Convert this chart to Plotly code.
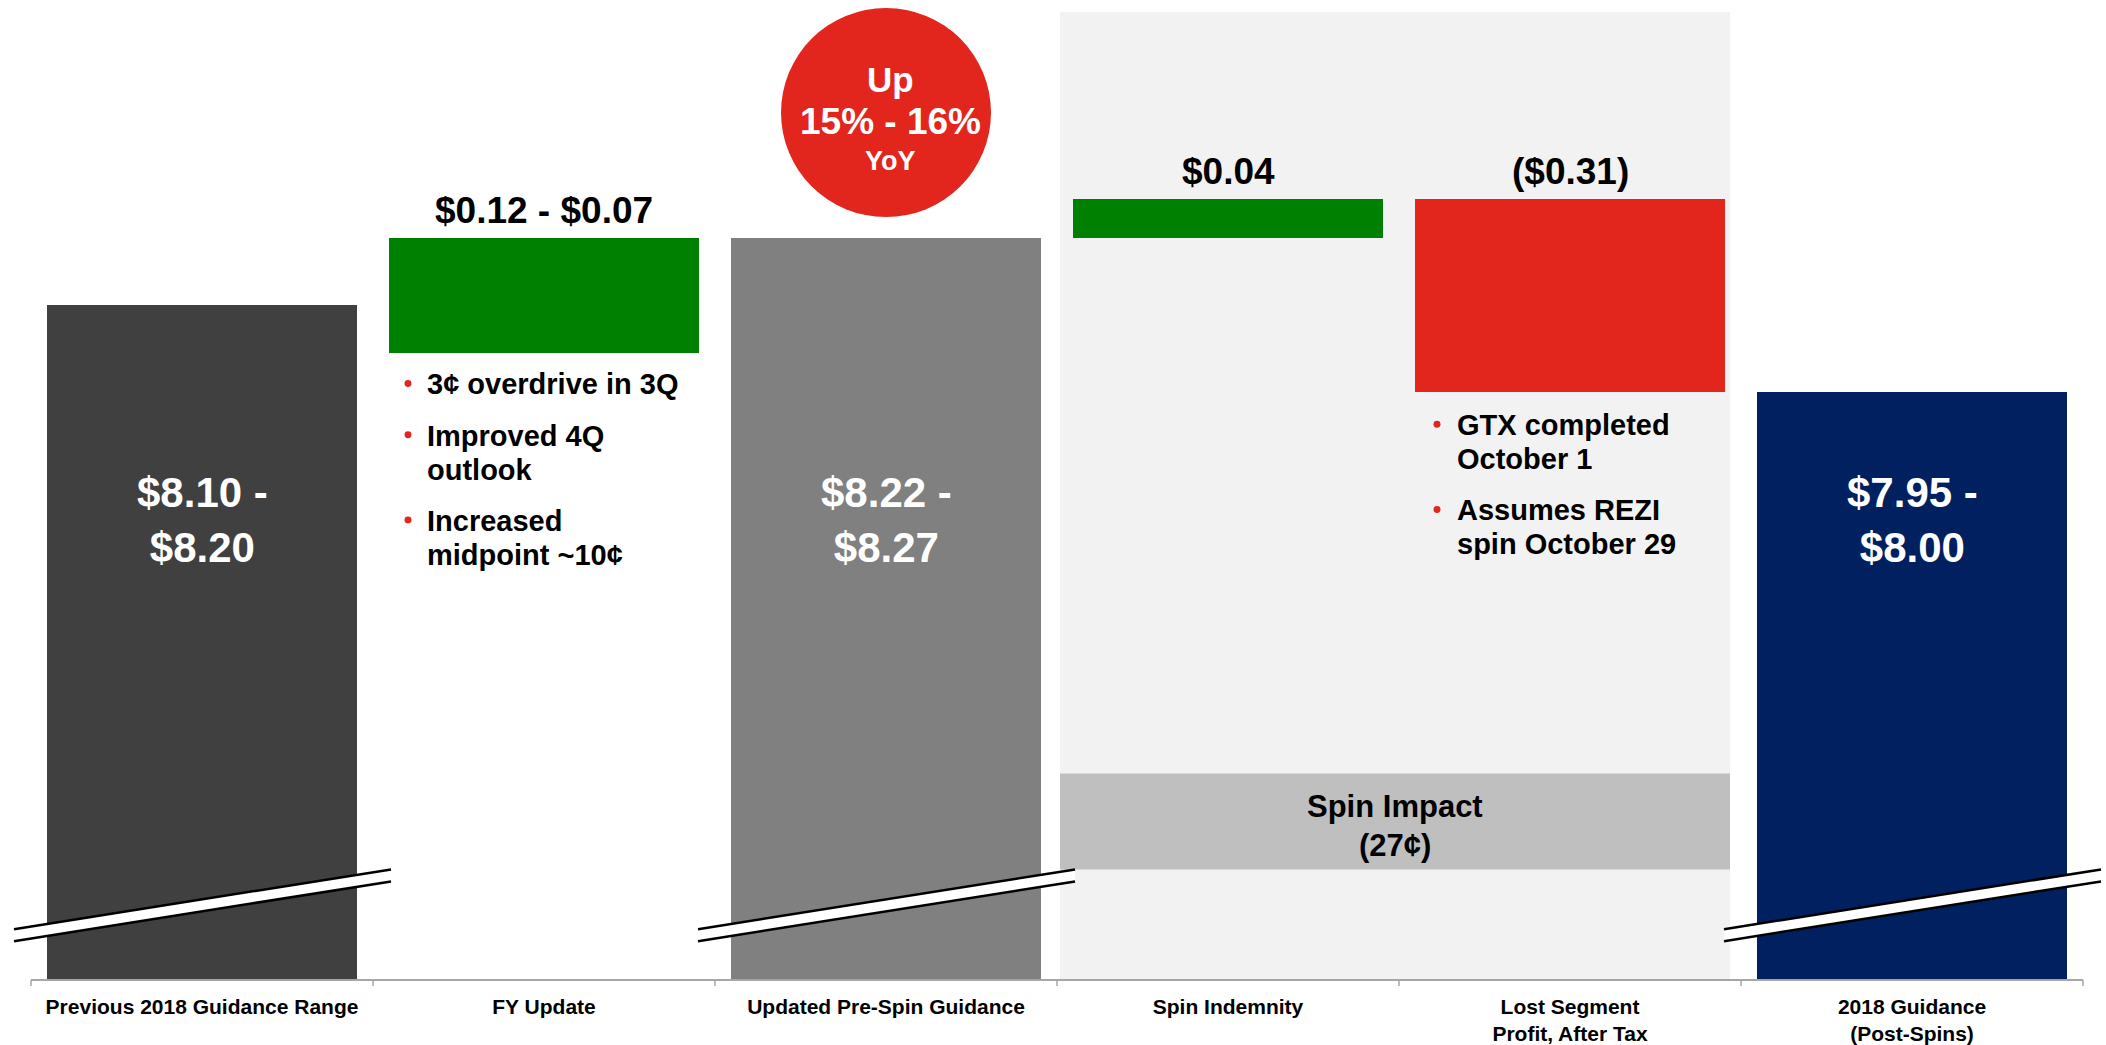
import plotly.graph_objects as go

# ---------------- data ----------------
categories = [
    "Previous 2018 Guidance Range",
    "FY Update",
    "Updated Pre-Spin Guidance",
    "Spin Indemnity",
    "Lost Segment<br>Profit, After Tax",
    "2018 Guidance<br>(Post-Spins)",
]
# bar extents as drawn on the slide (broken axis, % of axis height)
bar_base = [0.0, 64.0, 0.0, 75.7, 60.0, 0.0]
bar_top = [68.9, 75.7, 75.7, 79.7, 79.7, 60.0]
bar_colors = ["#404040", "#008000", "#808080", "#008000", "#e2261d", "#002060"]
inside_labels = ["$8.10 -<br>$8.20", "", "$8.22 -<br>$8.27", "", "", "$7.95 -<br>$8.00"]
above_labels = ["", "$0.12 - $0.07", "", "$0.04", "($0.31)", ""]
broken_bars = [0, 2, 5]
fy_bullets = [["3¢ overdrive in 3Q"], ["Improved 4Q", "outlook"], ["Increased", "midpoint ~10¢"]]
lost_bullets = [["GTX completed", "October 1"], ["Assumes REZI", "spin October 29"]]
yoy_lines = ["Up", "15% - 16%", "YoY"]
spin_lines = ["Spin Impact", "(27¢)"]

# ---------------- geometry helpers ----------------
W, H = 2106, 1045
PLOT_H = 984          # plot area height in px (axis line at bottom)
X0_PX, CAT_PX = 31, 342
FONT = "Liberation Sans, Arial, sans-serif"
RED = "#e2261d"


def xpx(px):
    return (px - X0_PX) / CAT_PX - 0.5


def ypx(px):
    return (PLOT_H - px) / PLOT_H * 100.0


def dx(px):
    return px / CAT_PX


def dy(px):
    return px / PLOT_H * 100.0


n = len(categories)
xs = list(range(n))

fig = go.Figure()
fig.add_trace(go.Bar(
    x=xs,
    y=[t - b for t, b in zip(bar_top, bar_base)],
    base=bar_base,
    width=0.906,
    marker=dict(color=bar_colors, line=dict(width=0)),
    hoverinfo="skip",
    showlegend=False,
))

shapes = []
annotations = []

# shaded spin region and spin impact box
shade_x0, shade_x1 = xpx(1060), xpx(1730)
shapes.append(dict(type="rect", xref="x", yref="y", x0=shade_x0, x1=shade_x1,
                   y0=0, y1=ypx(12), fillcolor="#f2f2f2", line=dict(width=0), layer="below"))
shapes.append(dict(type="rect", xref="x", yref="y", x0=shade_x0, x1=shade_x1,
                   y0=ypx(873), y1=ypx(776.7), fillcolor="#bfbfbf", line=dict(width=0), layer="below"))
for i, txt in enumerate(spin_lines):
    annotations.append(dict(x=(shade_x0 + shade_x1) / 2, y=ypx(810 + i * 39), xref="x", yref="y",
                            text=f"<b>{txt}</b>", showarrow=False, xanchor="center", yanchor="middle",
                            font=dict(family=FONT, size=31, color="black")))

# axis line and boundary ticks
shapes.append(dict(type="line", xref="x", yref="paper", x0=-0.5, x1=n - 0.5, y0=0, y1=0,
                   line=dict(color="#a6a6a6", width=2)))
for k in range(n + 1):
    shapes.append(dict(type="line", xref="x", yref="paper", x0=k - 0.5, x1=k - 0.5,
                       y0=0, y1=-6 / PLOT_H, line=dict(color="#a6a6a6", width=1.5)))

# axis-break marks
for i in broken_bars:
    xl, xr = i - dx(188), min(i + dx(189), xpx(W))
    yl_up, yr_up = ypx(933), ypx(873)
    yl_lo, yr_lo = ypx(945), ypx(885)
    shapes.append(dict(type="path", xref="x", yref="y", layer="above",
                       path=f"M{xl},{yl_up} L{xr},{yr_up} L{xr},{yr_lo} L{xl},{yl_lo} Z",
                       fillcolor="white", line=dict(width=0)))
    for (a, b) in [(yl_up, yr_up), (yl_lo, yr_lo)]:
        shapes.append(dict(type="line", xref="x", yref="y", layer="above",
                           x0=xl, x1=xr, y0=a, y1=b, line=dict(color="black", width=2.5)))

# YoY circle
cx, cy, r = 2.0, ypx(113), 105
shapes.append(dict(type="circle", xref="x", yref="y", layer="above",
                   x0=cx - dx(r), x1=cx + dx(r), y0=cy - dy(r), y1=cy + dy(r),
                   fillcolor=RED, line=dict(width=0)))
for txt, ypos, size in zip(yoy_lines, [80, 121.7, 161.7], [35, 37, 27]):
    annotations.append(dict(x=cx + dx(4), y=ypx(ypos), xref="x", yref="y", text=f"<b>{txt}</b>",
                            showarrow=False, xanchor="center", yanchor="middle",
                            font=dict(family=FONT, size=size, color="white")))

# labels inside and above bars
for i in range(n):
    if inside_labels[i]:
        annotations.append(dict(x=i, y=ypx(522), xref="x", yref="y",
                                text="<b>" + inside_labels[i] + "</b>", showarrow=False,
                                xanchor="center", yanchor="middle",
                                font=dict(family=FONT, size=42, color="white")))
    if above_labels[i]:
        annotations.append(dict(x=i, y=bar_top[i] + dy(28), xref="x", yref="y",
                                text="<b>" + above_labels[i] + "</b>", showarrow=False,
                                xanchor="center", yanchor="middle",
                                font=dict(family=FONT, size=37, color="black")))


# bullet lists
def add_bullets(items, dot_px, text_px, y_start):
    y = y_start
    for item in items:
        shapes.append(dict(type="circle", xref="x", yref="y", layer="above",
                           x0=xpx(dot_px) - dx(3.5), x1=xpx(dot_px) + dx(3.5),
                           y0=ypx(y - 1) - dy(3.5), y1=ypx(y - 1) + dy(3.5),
                           fillcolor=RED, line=dict(width=0)))
        for j, line in enumerate(item):
            annotations.append(dict(x=xpx(text_px), y=ypx(y), xref="x", yref="y",
                                    text=f"<b>{line}</b>", showarrow=False,
                                    xanchor="left", yanchor="middle",
                                    font=dict(family=FONT, size=29, color="black")))
            y += 34 if j < len(item) - 1 else 0
        y += 51.5


add_bullets(fy_bullets, 408, 425, 386)
add_bullets(lost_bullets, 1437, 1455, 427)

fig.update_layout(
    width=W, height=H,
    margin=dict(l=0, r=0, t=0, b=H - PLOT_H),
    paper_bgcolor="white", plot_bgcolor="white",
    shapes=shapes, annotations=annotations,
    showlegend=False,
    bargap=0,
    xaxis=dict(range=[xpx(0), xpx(W)], tickmode="array", tickvals=xs,
               ticktext=[f"<b>{c}</b>" for c in categories],
               tickfont=dict(family=FONT, size=21, color="black"),
               ticks="", showgrid=False, zeroline=False, showline=False,
               ticklabelstandoff=12, fixedrange=True),
    yaxis=dict(range=[0, 100], visible=False, showgrid=False, zeroline=False, fixedrange=True),
)

fig.write_html("out.html", config={"displayModeBar": False},
               post_script="document.body.style.margin='0';document.body.style.overflow='hidden';")
